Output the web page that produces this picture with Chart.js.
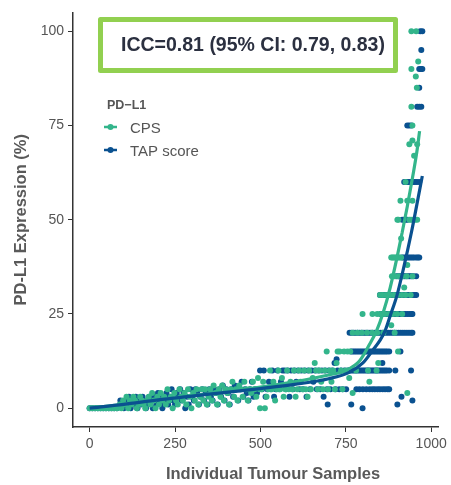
<!DOCTYPE html>
<html>
<head>
<meta charset="utf-8">
<script src="https://cdn.jsdelivr.net/npm/chart.js@4.4.0/dist/chart.umd.min.js"></script>
<style>
  html, body { margin: 0; padding: 0; background: #fff; }
  #wrap { width: 451px; height: 485px; }
</style>
</head>
<body>
<div id="wrap"><canvas id="icc-chart" width="451" height="485"></canvas></div>
<script>
/* =================================
  data (sample number, PD-L1 %)
==================================== */
const xTicks = [0, 250, 500, 750, 1000];
const yTicks = [0, 25, 50, 75, 100];

const cpsPoints = [
  [0,0],[8,0],[16,0],[24,0],[32,0],[40,0],[48,0],[56,0],[64,0],[72,0],[80,0],
  // low band
  [88,1],[93,0],[98,2],[103,1],[108,3],[113,0],[118,2],[123,1],[128,3],[133,2],[138,0],[143,1],[148,3],[153,2],
  [158,1],[163,0],[168,2],[173,3],[178,1],[183,4],[188,2],[193,0],[198,3],[203,1],[208,4],[213,2],[218,3],[223,1],
  [228,5],[233,2],[238,3],[243,0],[248,4],[253,2],[258,1],[263,5],[268,3],[273,2],[278,4],[283,1],[288,5],[293,3],
  [298,0],[303,4],[308,2],[313,5],[318,1],[323,3],[328,5],[333,2],[338,5],[343,1],[348,3],[353,5],[358,2],[363,6],
  [368,4],[373,1],[378,5],[383,3],[388,6],[393,2],[398,5],[403,4],[408,1],[413,5],[418,7],[423,3],[428,5],[433,2],
  [438,6],[443,5],[448,3],[453,7],[458,5],[463,2],[468,5],[473,4],[478,7],[483,5],[488,3],[493,8],[498,5],[499,0],
  [503,5],[508,7],[513,0],[518,3],[523,5],[528,10],[533,5],[538,7],[543,2],[548,5],[553,10],[558,5],[563,8],[568,3],
  [573,5],[578,10],[583,5],[588,7],[593,5],[598,10],[603,3],[608,5],[613,10],[618,7],[623,5],[628,10],[633,5],
  [638,3],[643,10],[648,5],[653,8],[659,12],[663,10],[668,5],[673,10],[678,7],[683,5],[688,10],[694,15],[698,5],
  [703,10],[708,7],[713,10],[718,5],[723,12],[726,15],[732,15],[736,10],[740,5],[745,15],[750,10],[755,15],
  [760,8],[763,15],
  // 10-20 %
  [770,4],[780,10],[815,10],[840,10],[845,12],[819,7],[903,15],
  [770,20],[784,20],[797,20],[812,20],[827,20],[842,20],[860,20],[883,22],[893,20],
  // 25-35 %
  [799,25],[828,25],[842,25],[852,25],[864,25],[876,25],[888,25],[900,25],[915,25],
  [850,30],[858,30],[868,30],[880,30],[891,30],[902,30],[914,30],[921,32],[925,30],[940,30],
  [885,35],[893,35],[904,35],[915,35],[928,35],[930,38],[945,35],
  // 40 % and above
  [883,40],[887,40],[891,40],[895,40],[899,40],[903,40],[907,40],[912,40],
  [912,45],[901,50],[904,50],[936,50],[941,50],[947,50],[953,50],[959,50],[910,55],[930,55],[945,55],[925,60],
  [950,67],[936,70],[959,70],[945,71],[945,75],[942,80],[958,85],[955,88],[942,90],[962,92],[942,100],[956,100],
  [930,4]
];

const tapPoints = [
  [0,0],[8,0],[16,0],[24,0],[32,0],[40,0],[48,0],[56,0],[64,0],[72,0],[80,0],
  // low band
  [90,2],[95,1],[100,0],[105,2],[110,1],[115,3],[120,0],[125,2],[130,1],[135,3],[140,0],[145,2],[150,1],[155,3],
  [160,2],[165,0],[170,1],[175,3],[180,2],[185,0],[190,3],[195,1],[200,4],[205,2],[210,1],[213,0],[215,3],[220,2],
  [225,4],[230,1],[235,3],[240,5],[245,2],[250,1],[255,4],[260,3],[265,5],[270,2],[275,4],[280,0],[285,3],[290,1],
  [295,5],[300,3],[305,2],[310,5],[315,4],[320,1],[325,3],[330,5],[335,2],[340,4],[345,1],[350,5],[355,3],[360,2],
  [365,5],[370,4],[375,1],[380,5],[385,3],[390,6],[395,2],[400,5],[405,4],[410,1],[415,5],[420,3],[425,6],[430,5],
  [435,2],[440,5],[445,7],[450,3],[455,5],[460,4],[465,2],[470,5],[475,7],[480,3],[485,5],[490,4],[495,5],[499,10],
  [505,5],[510,10],[515,3],[520,5],[525,7],[530,5],[535,10],[540,3],[545,5],[550,10],[555,5],[560,7],[565,10],
  [571,10],[575,5],[580,10],[585,3],[590,10],[595,5],[600,10],[605,7],[610,10],[615,5],[620,10],[625,5],[630,10],
  [635,3],[640,10],[645,5],[650,10],[655,7],[660,10],[665,5],[670,10],[675,5],[680,10],[685,3],[690,10],[695,5],
  [697,1],[700,10],[705,5],[710,10],[717,12],[720,5],[723,13],[726,10],[731,5],[736,10],[741,5],[746,10],[751,5],
  [756,10],[760,10],
  // 10 % row
  [765,10],[770,10],[775,10],[780,10],[785,10],[790,10],[795,10],[800,10],[805,10],[810,10],[815,10],[820,10],
  [825,10],[830,10],[835,10],[840,10],[845,10],[850,10],[855,10],[860,10],[865,10],[870,10],[877,10],[895,10],
  [941,10],[857,12],
  // 15 % row
  [766,15],[771,15],[776,15],[781,15],[786,15],[791,15],[796,15],[801,15],[806,15],[811,15],[816,15],[821,15],
  [826,15],[831,15],[836,15],[841,15],[846,15],[851,15],[856,15],[861,15],[866,15],[871,15],[877,15],[910,15],
  // 5 % row
  [781,5],[790,5],[800,5],[810,5],[820,5],[828,5],[835,5],[843,5],[850,5],[858,5],[865,5],[872,5],[877,5],
  // 20 % row
  [761,20],[767,20],[773,20],[779,20],[785,20],[791,20],[797,20],[803,20],[809,20],[815,20],[821,20],[827,20],
  [833,20],[839,20],[845,20],[851,20],[857,20],[863,20],[869,20],[875,20],[881,20],[887,20],[893,20],[899,20],
  [905,20],[911,20],[917,20],[923,20],[929,20],[935,20],[941,20],[945,20],
  // 25 % row
  [852,25],[858,25],[864,25],[870,25],[876,25],[882,25],[888,25],[894,25],[900,25],[906,25],[912,25],[918,25],
  [924,25],[930,25],[936,25],[942,25],[945,25],
  // 30 % row
  [850,30],[856,30],[862,30],[868,30],[874,30],[880,30],[886,30],[892,30],[898,30],[904,30],[910,30],[916,30],
  [922,30],[928,30],[934,30],[940,30],[946,30],[952,30],[956,30],
  // 35 % and above
  [898,35],[904,35],[910,35],[916,35],[921,35],[926,35],[932,35],[937,35],[942,35],[948,35],[956,35],
  [915,40],[920,40],[925,40],[930,40],[935,40],[940,40],[945,40],[950,40],[956,40],[961,40],[965,40],
  [915,50],[920,50],[925,50],[930,50],
  [921,60],[927,60],[932,60],[937,60],[942,60],[947,60],[952,60],[958,60],[965,60],
  [930,75],[936,75],[942,75],[959,80],[965,80],[971,80],[965,85],[965,90],[970,90],[974,90],[971,95],
  [968,100],[974,100],
  // stray low values
  [766,1],[799,0],[901,1],[913,3],[945,2]
];

// smoothed trend
const cpsFit = [
  [0,0],[100,1],[200,2.3],[300,3.3],[400,4.4],[500,5.6],[600,7],[700,8.8],[750,10],[790,12.5],[820,17],
  [840,20.5],[860,25.5],[880,32],[900,40],[915,46.6],[930,53.5],[945,61],[958,68],[966,73.5]
];
const tapFit = [
  [0,0],[100,1],[200,2.2],[300,3.2],[400,4.2],[500,5.2],[600,6.3],[700,7.8],[760,9.5],[800,12],[830,15.5],
  [850,18],[865,20.5],[880,24.5],[900,30],[920,37.5],[942,46.6],[958,54],[974,61.6]
];

const iccLabel = 'ICC=0.81 (95% CI: 0.79, 0.83)';
const legendTitle = 'PD\u2212L1';
const xTitle = 'Individual Tumour Samples';

/* =================================
  styles
==================================== */
const green = '#33b58b';
const blue = '#0a5190';
const grey = '#555555';
const font = 'Liberation Sans, Arial, sans-serif';

const toXY = arr => arr.map(p => ({ x: p[0], y: p[1] }));

/* =================================
  legend, ICC box and x title
==================================== */
const overlay = {
  id: 'overlay',
  afterDraw(chart) {
    const ctx = chart.ctx;
    ctx.save();
    // ICC box
    ctx.strokeStyle = '#92d050';
    ctx.lineWidth = 5;
    ctx.lineJoin = 'round';
    ctx.fillStyle = '#ffffff';
    ctx.beginPath();
    ctx.rect(100.5, 19.5, 295, 51);
    ctx.fill();
    ctx.stroke();
    ctx.fillStyle = '#2b3040';
    ctx.font = 'bold 19.5px ' + font;
    ctx.textAlign = 'center';
    ctx.textBaseline = 'middle';
    ctx.fillText(iccLabel, 253, 46);

    // x axis title (sits a little right of the panel centre in the original)
    ctx.fillStyle = '#595959';
    ctx.font = 'bold 16.5px ' + font;
    ctx.fillText(xTitle, 273, 474);

    // legend
    ctx.textAlign = 'left';
    ctx.fillStyle = grey;
    ctx.font = 'bold 12.5px ' + font;
    ctx.fillText(legendTitle, 107, 106);
    const items = [['CPS', green, 129], ['TAP score', blue, 152]];
    ctx.font = '15px ' + font;
    items.forEach(([label, color, y]) => {
      ctx.strokeStyle = color;
      ctx.lineWidth = 2.5;
      ctx.beginPath();
      ctx.moveTo(104, y - 2);
      ctx.lineTo(117, y - 2);
      ctx.stroke();
      ctx.fillStyle = color;
      ctx.beginPath();
      ctx.arc(110.5, y - 2, 3, 0, Math.PI * 2);
      ctx.fill();
      ctx.fillStyle = grey;
      ctx.fillText(label, 130, y);
    });
    ctx.restore();
  }
};

/* =================================
  chart
==================================== */
const axisCommon = {
  type: 'linear',
  grid: { drawOnChartArea: false, drawTicks: true, tickLength: 5, color: '#333', lineWidth: 1 },
  border: { display: true, color: '#333', width: 1.5 },
  ticks: { color: grey, font: { family: font, size: 14 }, padding: 4, autoSkip: false, maxRotation: 0,
           callback: v => String(v) }
};

const chart = new Chart(document.getElementById('icc-chart'), {
  type: 'scatter',
  data: {
    datasets: [
      { type: 'line', label: 'TAP fit', data: toXY(tapFit), borderColor: blue, borderWidth: 3.2,
        pointRadius: 0, cubicInterpolationMode: 'monotone', fill: false },
      { type: 'line', label: 'CPS fit', data: toXY(cpsFit), borderColor: green, borderWidth: 3.2,
        pointRadius: 0, cubicInterpolationMode: 'monotone', fill: false },
      { label: 'CPS', data: toXY(cpsPoints), backgroundColor: green, pointRadius: 3, borderWidth: 0 },
      { label: 'TAP score', data: toXY(tapPoints), backgroundColor: blue, pointRadius: 3, borderWidth: 0 }
    ]
  },
  options: {
    responsive: false,
    animation: false,
    devicePixelRatio: 1,
    layout: { padding: { top: 8, right: 11, left: 0, bottom: 0 } },
    plugins: { legend: { display: false }, tooltip: { enabled: false } },
    scales: {
      x: Object.assign({}, axisCommon, {
        min: -48.7, max: 1022.7,
        afterBuildTicks: s => { s.ticks = xTicks.map(v => ({ value: v })); },
        afterFit: s => { s.height = 58; }
      }),
      y: Object.assign({}, axisCommon, {
        min: -5, max: 105,
        afterBuildTicks: s => { s.ticks = yTicks.map(v => ({ value: v })); },
        afterFit: s => { s.width = 73; },
        title: { display: true, text: 'PD-L1 Expression (%)', color: '#595959',
                 font: { family: font, size: 16.5, weight: 'bold' }, padding: { top: 12, bottom: 0 } }
      })
    }
  },
  plugins: [overlay]
});
</script>
</body>
</html>
